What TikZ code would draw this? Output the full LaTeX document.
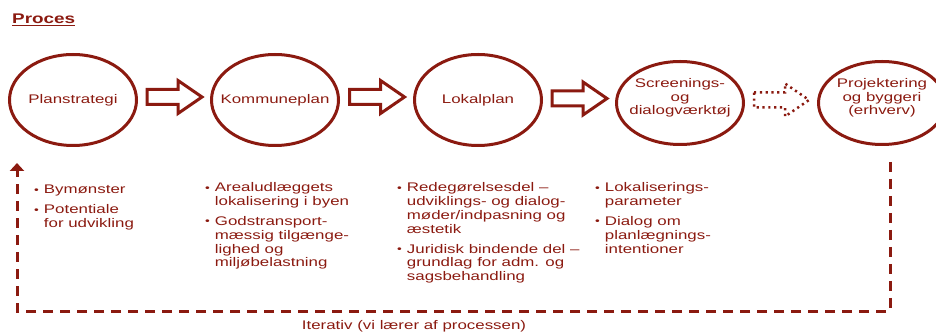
\documentclass[tikz,border=0pt]{standalone}
\usepackage{fontspec}
\setmainfont[FakeStretch=1.35]{Liberation Sans}
\usetikzlibrary{shapes.geometric,arrows.meta,calc}
\definecolor{dred}{RGB}{139,26,16}
\begin{document}
\begin{tikzpicture}[x=1pt,y=-1pt,
  every node/.style={text=dred,font=\fontsize{12.5}{13.8}\selectfont},
  ell/.style={draw=dred,line width=3pt,ellipse,minimum width=127pt,inner sep=0pt},
  lbl/.style={align=center,inner sep=0pt,font=\fontsize{12.5}{13.5}\selectfont},
  barrow/.style={draw=dred,line width=3pt,miter limit=4},
  darrow/.style={draw=dred,line width=2.5pt,dash pattern=on 2.2pt off 3.6pt},
  loop/.style={draw=dred,line width=3pt,dash pattern=on 10pt off 7pt},
  bul/.style={anchor=north west,align=left,inner sep=0pt}
]
\useasboundingbox (0,0) rectangle (936,336);
\node[anchor=base west,inner sep=0pt,font=\fontsize{14}{15}\selectfont\bfseries] (title) at (12,24) {\underline{Proces}};

\node[ell,minimum height=91pt] (p1) at (73,100) {};
\node[ell,minimum height=91pt] (p2) at (275,100) {};
\node[ell,minimum height=91pt] (p3) at (478,100) {};
\node[ell,minimum height=83pt] (p4) at (680,103) {};
\node[ell,minimum height=83pt] (p5) at (882,103) {};
\node[lbl] (t1) at (p1) {Planstrategi};
\node[lbl] (t2) at (p2) {Kommuneplan};
\node[lbl] (t3) at (p3) {Lokalplan};
\node[lbl] (t4) at ($(p4)+(0,-5)$) {Screenings-\\og\\dialogværktøj};
\node[lbl] (t5) at ($(p5)+(0,-5)$) {Projektering\\og byggeri\\(erhverv)};

\foreach \a/\b/\st in {p1/p2/barrow,p2/p3/barrow,p3/p4/barrow,p4/p5/darrow}{
  \draw[\st,shift={($(\a.east)!0.5!(\b.west)$)}] (-27,-3-7.5) -- (4,-3-7.5) -- (4,-3-16.5) -- (28,-3) -- (4,-3+16.5) -- (4,-3+7.5) -- (-27,-3+7.5) -- cycle;
}

\coordinate (loopR) at (890,162);
\coordinate (loopL) at (17,163);
\draw[loop,-{Triangle[width=14pt,length=8pt]}] (loopR) |- (17,311) -- (loopL);
\node[anchor=base] (iter) at (414,330) {Iterativ (vi lærer af processen)};

\newcommand\bl{\raisebox{0.5pt}{\fontsize{10}{10}\selectfont\textbullet}}
\node[bul] (c1) at (34,184) {\begin{tabular}{@{}l@{\hspace{5pt}}l@{}}
\bl & Bymønster\\[6pt]
\bl & Potentiale\\ & for udvikling\end{tabular}};
\node[bul] (c2) at (205,182) {\begin{tabular}{@{}l@{\hspace{5pt}}l@{}}
\bl & Arealudlæggets\\ & lokalisering i byen\\[6pt]
\bl & Godstransport-\\ & mæssig tilgænge-\\ & lighed og\\ & miljøbelastning\end{tabular}};
\node[bul] (c3) at (397,182) {\begin{tabular}{@{}l@{\hspace{5pt}}l@{}}
\bl & Redegørelsesdel –\\ & udviklings- og dialog-\\ & møder/indpasning og\\ & æstetik\\[6pt]
\bl & Juridisk bindende del –\\ & grundlag for adm. og\\ & sagsbehandling\end{tabular}};
\node[bul] (c4) at (595,182) {\begin{tabular}{@{}l@{\hspace{5pt}}l@{}}
\bl & Lokaliserings-\\ & parameter\\[6pt]
\bl & Dialog om\\ & planlægnings-\\ & intentioner\end{tabular}};
\end{tikzpicture}
\end{document}
